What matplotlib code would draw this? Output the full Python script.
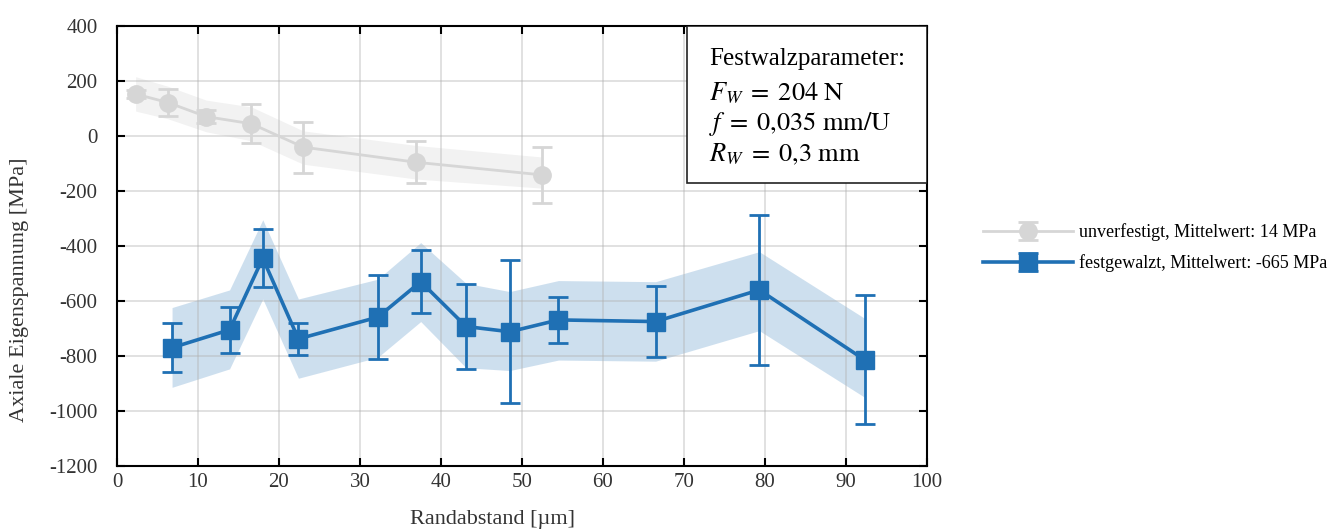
import matplotlib
matplotlib.use("Agg")
import matplotlib.pyplot as plt
import numpy as np

plt.rcParams["font.family"] = ["Liberation Serif", "DejaVu Serif"]
plt.rcParams["mathtext.fontset"] = "stix"
plt.rcParams["axes.unicode_minus"] = False

# unverfestigt (grey)
x_unv = [2.3, 6.3, 11.0, 16.6, 23.0, 36.95, 52.5]
y_unv = [152, 121, 70, 44, -41, -96, -142]
err_unv = [15, 50, 25, 71, 93, 77, 102]
band_unv_hi = [215, 180, 130, 105, 18, -35, -77]
band_unv_lo = [90, 62, 15, -18, -103, -157, -190]

# festgewalzt (blue)
x_fw = [6.8, 13.9, 18.0, 22.4, 32.2, 37.5, 43.1, 48.5, 54.5, 66.5, 79.3, 92.3]
y_fw = [-770, -705, -445, -738, -659, -530, -693, -712, -669, -675, -560, -814]
err_fw = [88, 83, 105, 59, 152, 114, 155, 260, 84, 130, 272, 235]
band_fw_hi = [-624, -560, -305, -593, -521, -388, -536, -566, -526, -530, -421, -663]
band_fw_lo = [-914, -847, -593, -881, -805, -675, -843, -853, -815, -819, -708, -950]

LABEL_UNV = "unverfestigt, Mittelwert: 14 MPa"
LABEL_FW = "festgewalzt, Mittelwert: -665 MPa"

BOX_TITLE = "Festwalzparameter:"
BOX_LINES = [
    r"$F_W\;=\;204\ \mathrm{N}$",
    r"$f\;=\;0{,}035\ \mathrm{mm/U}$",
    r"$R_W\;=\;0{,}3\ \mathrm{mm}$",
]

BLUE = "#1f70b4"
GREY = "#d6d6d6"
TEXT = "#333333"


def main() -> None:
    fig = plt.figure(figsize=(13.37, 5.31), dpi=100)
    ax = fig.add_axes([0.0875, 0.1224, 0.6058, 0.829])

    ax.fill_between(x_unv, band_unv_lo, band_unv_hi, color="#f2f2f2", lw=0, zorder=1)
    ax.fill_between(x_fw, band_fw_lo, band_fw_hi, color=BLUE, alpha=0.22, lw=0, zorder=1)

    ax.errorbar(x_unv, y_unv, yerr=err_unv, color=GREY, ecolor=GREY, marker="o", ms=12.5,
                lw=2.0, elinewidth=2.0, capsize=7, capthick=2.0, label=LABEL_UNV, zorder=3)
    ax.errorbar(x_fw, y_fw, yerr=err_fw, color=BLUE, ecolor=BLUE, marker="s", ms=12.5,
                lw=2.6, elinewidth=2.0, capsize=7, capthick=2.0, label=LABEL_FW, zorder=4)

    ax.set_xlim(0, 100)
    ax.set_ylim(-1200, 400)
    ax.set_xticks(np.arange(0, 101, 10))
    ax.set_yticks(np.arange(-1200, 401, 200))
    ax.grid(True, color="#b0b0b0", alpha=0.45, lw=1.2)
    ax.set_axisbelow("line")
    ax.tick_params(direction="in", length=6, width=1.5, top=True, right=True,
                   labelsize=15, colors="black", labelcolor=TEXT)
    ax.tick_params(axis="y", pad=14)
    ax.tick_params(axis="x", pad=5)
    for sp in ax.spines.values():
        sp.set_linewidth(1.5)

    ax.set_xlabel("Randabstand [µm]", fontsize=16, color=TEXT)
    ax.set_ylabel("Axiale Eigenspannung [MPa]", fontsize=16, color=TEXT)
    ax.xaxis.set_label_coords(0.464, -0.10)
    ax.yaxis.set_label_coords(-0.109, 0.40)

    tx = 0.731
    ax.text(tx, 0.925, BOX_TITLE, transform=ax.transAxes, fontsize=18,
            va="center", ha="left", zorder=6)
    for yy, line in zip([0.846, 0.777, 0.707], BOX_LINES):
        ax.text(tx, yy, line, transform=ax.transAxes, fontsize=19,
                va="center", ha="left", zorder=6)
    rect = plt.Rectangle((0.704, 0.643), 0.296, 0.357, transform=ax.transAxes,
                         facecolor="white", edgecolor="#222222", lw=1.2, zorder=5)
    ax.add_patch(rect)

    ax.legend(loc="center left", bbox_to_anchor=(1.06, 0.496), frameon=False, fontsize=13,
              handlelength=5.0, handletextpad=0.35, labelspacing=0.7, borderaxespad=0)

    fig.savefig("out.png", dpi=100)
    plt.close(fig)


if __name__ == "__main__":
    main()
